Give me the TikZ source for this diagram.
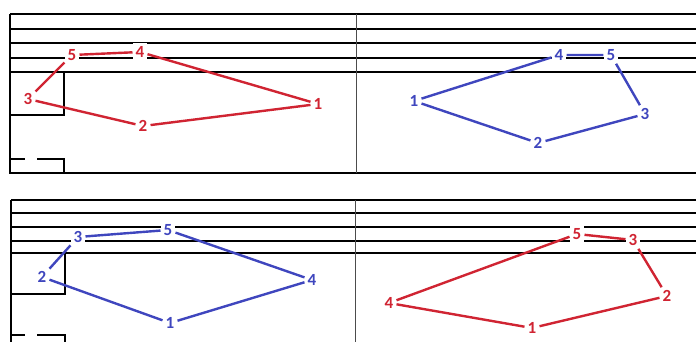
\documentclass[tikz,border=0pt]{standalone}
\usepackage{fontspec}
\setsansfont{Carlito}
\usetikzlibrary{positioning}

\definecolor{pinkred}{RGB}{208,36,50}
\definecolor{inkblue}{RGB}{63,70,190}

\begin{document}
\begin{tikzpicture}[
    x=1pt, y=-1pt,
    staff/.style={line width=1.2pt, black},
    bar/.style={line width=1.8pt, black},
    divider/.style={line width=1pt, black!70},
    num/.style={font=\sffamily\bfseries\fontsize{17}{18}\selectfont, inner sep=3pt, fill=white},
    rednum/.style={num, text=pinkred},
    bluenum/.style={num, text=inkblue},
    redline/.style={line width=2.4pt, pinkred},
    blueline/.style={line width=2.4pt, inkblue}
  ]
  \useasboundingbox (0,0) rectangle (696,342);

  % top grid
  \foreach \y in {14, 29, 43, 58}
    \draw[staff] (10,\y) -- (696,\y);
  \draw[bar] (10,72) -- (696,72);
  \draw[staff] (10,14) -- (10,173) -- (696,173);
  \draw[divider] (356,14) -- (356,173);
  \draw[staff] (10,115) -- (64,115) -- (64,72);
  \draw[staff] (10,159) -- (25,159);
  \draw[staff] (37,159) -- (64,159) -- (64,173);

  % bottom grid
  \foreach \y in {200, 213, 227, 241}
    \draw[staff] (11,\y) -- (696,\y);
  \draw[bar] (11,253) -- (696,253);
  \draw[staff] (11,200) -- (11,342);
  \draw[divider] (355,200) -- (355,342);
  \draw[staff] (11,294) -- (65,294) -- (65,253);
  \draw[staff] (11,335) -- (25,335);
  \draw[staff] (37,335) -- (65,335) -- (65,342);

  % top left, red
  \node[rednum] (tl1) at (318,104) {1};
  \node[rednum] (tl2) at (143,126) {2};
  \node[rednum] (tl3) at (28,99) {3};
  \node[rednum] (tl4) at (140,52) {4};
  \node[rednum] (tl5) at (72,55) {5};
  \draw[redline] (tl1) -- (tl2) -- (tl3) -- (tl5) -- (tl4) -- (tl1);

  % top right, blue
  \node[bluenum] (tr1) at (414,101) {1};
  \node[bluenum] (tr2) at (538,143) {2};
  \node[bluenum] (tr3) at (645,114) {3};
  \node[bluenum] (tr4) at (559,55) {4};
  \node[bluenum] (tr5) at (611,55) {5};
  \draw[blueline] (tr1) -- (tr2) -- (tr3) -- (tr5) -- (tr4) -- (tr1);

  % bottom left, blue
  \node[bluenum] (bl1) at (170,323) {1};
  \node[bluenum] (bl2) at (42,277) {2};
  \node[bluenum] (bl3) at (78,237) {3};
  \node[bluenum] (bl4) at (312,280) {4};
  \node[bluenum] (bl5) at (168,230) {5};
  \draw[blueline] (bl1) -- (bl2) -- (bl3) -- (bl5) -- (bl4) -- (bl1);

  % bottom right, red
  \node[rednum] (br1) at (532,328) {1};
  \node[rednum] (br2) at (667,296) {2};
  \node[rednum] (br3) at (633,240) {3};
  \node[rednum] (br4) at (389,303) {4};
  \node[rednum] (br5) at (577,234) {5};
  \draw[redline] (br1) -- (br2) -- (br3) -- (br5) -- (br4) -- (br1);
\end{tikzpicture}
\end{document}
